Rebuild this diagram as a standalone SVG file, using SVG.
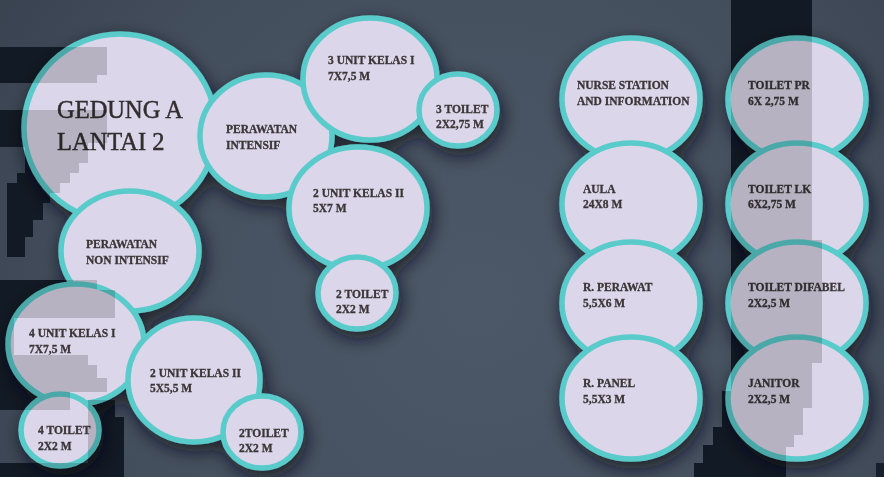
<svg xmlns="http://www.w3.org/2000/svg" width="884" height="477" viewBox="0 0 884 477">
<defs>
<radialGradient id="bg" cx="480" cy="300" r="620" gradientUnits="userSpaceOnUse">
<stop offset="0" stop-color="#4c5868"/>
<stop offset="0.6" stop-color="#444f5e"/>
<stop offset="1" stop-color="#373f4c"/>
</radialGradient>
<filter id="shadow" x="-10%" y="-10%" width="120%" height="125%">
<feDropShadow dx="3" dy="7" stdDeviation="9" flood-color="#0c121b" flood-opacity="0.75"/>
</filter>
<style>
.c{fill:#dcd6ea;stroke:#5acbcb;stroke-width:5.5}
.t{font-family:"Liberation Serif","DejaVu Serif",serif;font-weight:bold;font-size:11.5px;fill:#3a3536;stroke:#3a3536;stroke-width:0.3}
.big{font-family:"Liberation Serif","DejaVu Serif",serif;font-size:24.5px;fill:#332e2f;stroke:#332e2f;stroke-width:0.45}
.dk{fill:#16202d}
.ov{fill:#000;opacity:0.17}
</style>
</defs>
<rect width="884" height="477" fill="url(#bg)"/>
<g id="dark-under">
<path class="dk" d="M731,0H812V240H822V363H812V408H803V435H794V447H786V477H694V463H703V445H713V427H722V391H731Z"/>
<path class="dk" d="M0,47H107V75H97V83H0Z"/>
<path class="dk" d="M0,110H107V143H88V163H79V173H70V183H60V193H50V203H43V220H33V237H25V257H7V183H17V173H25V147H0Z"/>
<path class="dk" d="M0,280H97V290H115V318H14V355H88V365H97V378H107V392H70V410H0Z"/>
<path class="dk" d="M88,400H115V417H124V477H88ZM0,463H88V477H0Z"/>
<rect class="dk" x="876" y="463" width="8" height="14"/>
</g>
<g id="nodes" filter="url(#shadow)">
<g id="gedung"><ellipse class="c" cx="120" cy="128" rx="96" ry="94"/><text class="big" x="57" y="118">GEDUNG A</text><text class="big" x="57" y="150">LANTAI 2</text></g>
<g id="perawatan-intensif"><ellipse class="c" cx="266" cy="136" rx="66" ry="61"/><text class="t" x="226" y="133">PERAWATAN</text><text class="t" x="226" y="149">INTENSIF</text></g>
<g id="kelas1-3"><ellipse class="c" cx="370" cy="79" rx="67" ry="61"/><text class="t" x="328" y="64">3 UNIT KELAS I</text><text class="t" x="328" y="80">7X7,5 M</text></g>
<g id="toilet3"><ellipse class="c" cx="458" cy="110" rx="39" ry="36"/><text class="t" x="436" y="113">3 TOILET</text><text class="t" x="436" y="128">2X2,75 M</text></g>
<g id="kelas2-2"><ellipse class="c" cx="358" cy="208" rx="69" ry="61"/><text class="t" x="313" y="197">2 UNIT KELAS II</text><text class="t" x="313" y="212">5X7 M</text></g>
<g id="toilet2"><ellipse class="c" cx="357" cy="293" rx="39" ry="36"/><text class="t" x="336" y="298">2 TOILET</text><text class="t" x="336" y="313">2X2 M</text></g>
<g id="perawatan-non"><ellipse class="c" cx="130" cy="251" rx="69" ry="60"/><text class="t" x="86" y="248">PERAWATAN</text><text class="t" x="86" y="264">NON INTENSIF</text></g>
<g id="kelas1-4"><ellipse class="c" cx="76" cy="344" rx="68" ry="60"/><text class="t" x="29" y="337">4 UNIT KELAS I</text><text class="t" x="29" y="353">7X7,5 M</text></g>
<g id="kelas2-2b"><ellipse class="c" cx="194" cy="380" rx="66" ry="62"/><text class="t" x="150" y="377">2 UNIT KELAS II</text><text class="t" x="150" y="392">5X5,5 M</text></g>
<g id="toilet4"><ellipse class="c" cx="60" cy="430" rx="39" ry="36"/><text class="t" x="38" y="434">4 TOILET</text><text class="t" x="38" y="450">2X2 M</text></g>
<g id="toilet2b"><ellipse class="c" cx="262" cy="432" rx="39" ry="36"/><text class="t" x="239" y="437">2TOILET</text><text class="t" x="239" y="452">2X2 M</text></g>
<g id="nurse"><ellipse class="c" cx="631" cy="99" rx="69" ry="61"/><text class="t" x="577" y="89">NURSE STATION</text><text class="t" x="577" y="105">AND INFORMATION</text></g>
<g id="aula"><ellipse class="c" cx="631" cy="204" rx="69" ry="61"/><text class="t" x="583" y="193">AULA</text><text class="t" x="583" y="208">24X8 M</text></g>
<g id="perawat"><ellipse class="c" cx="631" cy="303" rx="69" ry="61"/><text class="t" x="583" y="291">R. PERAWAT</text><text class="t" x="583" y="307">5,5X6 M</text></g>
<g id="panel"><ellipse class="c" cx="631" cy="398" rx="69" ry="61"/><text class="t" x="583" y="387">R. PANEL</text><text class="t" x="583" y="403">5,5X3 M</text></g>
<g id="toilet-pr"><ellipse class="c" cx="797" cy="99" rx="69" ry="61"/><text class="t" x="748" y="89">TOILET PR</text><text class="t" x="748" y="105">6X 2,75 M</text></g>
<g id="toilet-lk"><ellipse class="c" cx="797" cy="204" rx="69" ry="61"/><text class="t" x="748" y="193">TOILET LK</text><text class="t" x="748" y="208">6X2,75 M</text></g>
<g id="toilet-difabel"><ellipse class="c" cx="797" cy="303" rx="69" ry="61"/><text class="t" x="748" y="291">TOILET DIFABEL</text><text class="t" x="748" y="307">2X2,5 M</text></g>
<g id="janitor"><ellipse class="c" cx="797" cy="398" rx="69" ry="61"/><text class="t" x="748" y="387">JANITOR</text><text class="t" x="748" y="403">2X2,5 M</text></g>
</g>
<g id="connectors"/>
<g id="dark-over">
<path class="ov" d="M731,0H812V240H822V363H812V408H803V435H794V447H786V477H694V463H703V445H713V427H722V391H731Z"/>
<path class="ov" d="M0,47H107V75H97V83H0Z"/>
<path class="ov" d="M0,110H107V143H88V163H79V173H70V183H60V193H50V203H43V220H33V237H25V257H7V183H17V173H25V147H0Z"/>
<path class="ov" d="M0,280H97V290H115V318H14V355H88V365H97V378H107V392H70V410H0Z"/>
<path class="ov" d="M88,400H115V417H124V477H88ZM0,463H88V477H0Z"/>
</g>
</svg>
